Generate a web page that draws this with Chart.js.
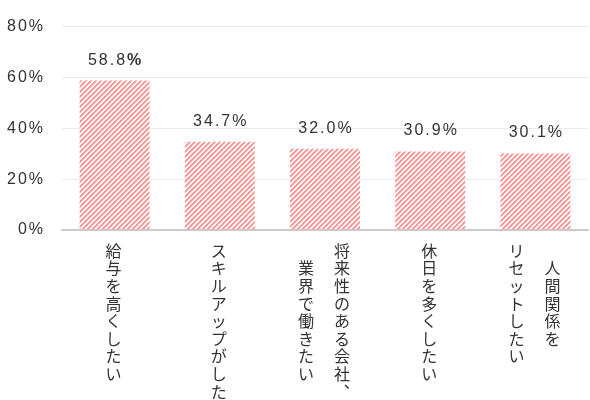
<!DOCTYPE html>
<html>
<head>
<meta charset="utf-8">
<script src="https://cdn.jsdelivr.net/npm/chart.js@4/dist/chart.umd.min.js"></script>
<style>
  body { margin: 0; background: #fff; }
</style>
</head>
<body>
<canvas id="myChart" width="590" height="400"></canvas>
<script>
// each category is a list of vertical columns, first one on the right
const categories = [
  ['給与を高くしたい'],
  ['スキルアップがしたい'],
  ['将来性のある会社、', '業界で働きたい'],
  ['休日を多くしたい'],
  ['人間関係を', 'リセットしたい']
];
const values = [58.8, 34.7, 32.0, 30.9, 30.1];
const yTicks = [0, 20, 40, 60, 80];

const ctx = document.getElementById('myChart');
const latin = "'Liberation Sans', Arial, sans-serif";
const cjk = "'Noto Sans CJK JP', sans-serif";

// vertical forms for punctuation
const vert = { '、': '\uFE11', '。': '\uFE12' };

// turn the columns into rows of full width characters, columns centred
function verticalLines(cols) {
  const n = Math.max(...cols.map(c => [...c].length));
  const padded = cols.map(c => {
    const chars = [...c].map(ch => vert[ch] || ch);
    const off = Math.floor((n - chars.length) / 2);
    const out = [];
    for (let i = 0; i < n; i++) out.push(chars[i - off] || '\u3000');
    return out;
  });
  const lines = [];
  for (let i = 0; i < n; i++) {
    lines.push(padded.map(p => p[i]).reverse().join('\u3000'));
  }
  return lines;
}

function stripes() {
  const c = document.createElement('canvas');
  c.width = 5; c.height = 5;
  const g = c.getContext('2d');
  for (let x = 0; x < 5; x++) {
    for (let y = 0; y < 5; y++) {
      const k = (x + y) % 5;
      if (k < 2) g.fillStyle = '#ff9494';
      else if (k == 2) g.fillStyle = '#ffc2c2';
      else continue;
      g.fillRect(x, y, 1, 1);
    }
  }
  return c.getContext('2d').createPattern(c, 'repeat');
}

const spacing = {
  id: 'spacing',
  beforeDraw(chart) {
    chart.ctx.letterSpacing = '2px';
  }
};

const valueLabels = {
  id: 'valueLabels',
  afterDatasetsDraw(chart) {
    const c = chart.ctx;
    const meta = chart.getDatasetMeta(0);
    c.save();
    c.letterSpacing = '2px';
    c.fillStyle = '#333';
    c.textBaseline = 'alphabetic';
    c.textAlign = 'left';
    meta.data.forEach((bar, i) => {
      const num = values[i].toFixed(1);
      c.font = '16px ' + latin;
      const w1 = c.measureText(num).width;
      c.font = (i === 0 ? 'bold ' : '') + '16px ' + latin;
      const w2 = c.measureText('%').width;
      const x0 = bar.x - (w1 + w2 - 2) / 2;
      const y = bar.y - 16;
      c.font = '16px ' + latin;
      c.fillText(num, x0, y);
      c.font = (i === 0 ? 'bold ' : '') + '16px ' + latin;
      c.fillText('%', x0 + w1, y);
    });
    c.restore();
  }
};

function draw() {
  new Chart(ctx, {
    type: 'bar',
    data: {
      labels: categories.map(verticalLines),
      datasets: [{
        data: values,
        backgroundColor: stripes(),
        borderWidth: 0,
        barPercentage: 0.665,
        categoryPercentage: 1
      }]
    },
    options: {
      responsive: false,
      animation: false,
      layout: { padding: { top: 25, right: 2, left: 0, bottom: 0 } },
      plugins: {
        legend: { display: false },
        tooltip: { enabled: false }
      },
      scales: {
        x: {
          grid: { display: false, drawTicks: false },
          border: { display: true, color: '#cccccc', width: 2 },
          ticks: {
            autoSkip: false,
            maxRotation: 0,
            minRotation: 0,
            padding: 12,
            color: '#333',
            font: { family: cjk, size: 16, lineHeight: 1.1 }
          },
          afterFit: (scale) => { scale.height = 170; }
        },
        y: {
          min: 0,
          max: 80,
          afterBuildTicks: (scale) => { scale.ticks = yTicks.map(v => ({ value: v })); },
          grid: { color: '#ebebeb', drawTicks: false },
          border: { display: false },
          ticks: {
            padding: 17,
            color: '#333',
            font: { family: latin, size: 16 },
            callback: v => v + '%'
          },
          afterFit: (scale) => { scale.width = 62; }
        }
      }
    },
    plugins: [spacing, valueLabels]
  });
}

draw();
</script>
</body>
</html>
